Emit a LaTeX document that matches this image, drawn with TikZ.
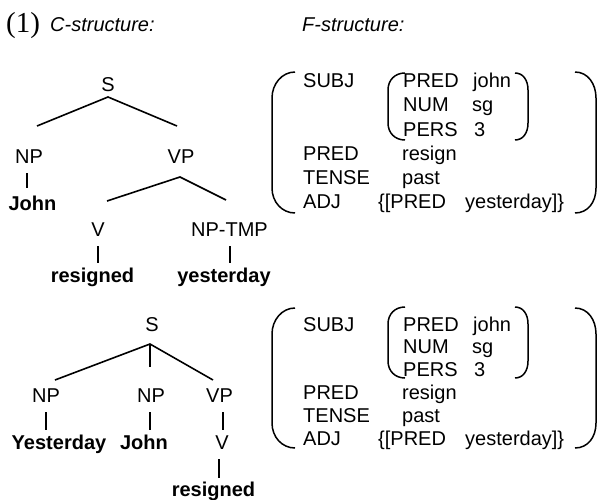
\documentclass[tikz,border=0pt]{standalone}
\usepackage{fontspec}
\setmainfont{Liberation Sans}
\newfontfamily\serifnum{Liberation Serif}
\begin{document}
\begin{tikzpicture}[x=1pt,y=-1pt,
  every node/.style={inner sep=0pt, font=\fontsize{20}{24}\selectfont},
  lbl/.style={anchor=base},
  bw/.style={anchor=base, font=\fontsize{20}{24}\selectfont\bfseries},
  fs/.style={anchor=base west},
  edge/.style={line width=1.6pt},
  paren/.style={line width=1.5pt}]
\useasboundingbox (0,0) rectangle (599,500);

% header
\node[anchor=base west, font=\fontsize{29}{31}\serifnum] (num) at (6,33) {(1)};
\node[fs, font=\fontsize{20}{24}\selectfont\itshape] (chead) at (50,32) {C-structure:};
\node[fs, font=\fontsize{20}{24}\selectfont\itshape] (fhead) at (302,32) {F-structure:};

% ---------- top tree ----------
\node[lbl] (S1) at (108,92) {S};
\node[lbl] (NP1) at (29,163) {NP};
\node[lbl] (VP1) at (181,163) {VP};
\node[bw] (John1) at (32.5,210) {John};
\node[lbl] (V1) at (98,236) {V};
\node[lbl] (NPT1) at (229.5,236) {NP-TMP};
\node[bw] (res1) at (92.5,282) {resigned};
\node[bw] (yes1) at (224,282) {yesterday};

\coordinate (S1a) at (108,97);
\coordinate (S1l) at (37,126);
\coordinate (S1r) at (177,126);
\coordinate (NP1a) at (27,173);
\coordinate (NP1b) at (27,188);
\coordinate (VP1a) at (180,177);
\coordinate (VP1l) at (107,201);
\coordinate (VP1r) at (226,200);
\coordinate (V1a) at (98,246);
\coordinate (V1b) at (98,263);
\coordinate (T1a) at (230,246);
\coordinate (T1b) at (230,263);

\draw[edge] (S1l) -- (S1a) -- (S1r);
\draw[edge] (NP1a) -- (NP1b);
\draw[edge] (VP1l) -- (VP1a) -- (VP1r);
\draw[edge] (V1a) -- (V1b);
\draw[edge] (T1a) -- (T1b);

% ---------- bottom tree ----------
\node[lbl] (S2) at (152,331) {S};
\node[lbl] (NP2) at (46,402) {NP};
\node[lbl] (NP3) at (151,402) {NP};
\node[lbl] (VP2) at (219.5,402) {VP};
\node[bw] (Yes2) at (59,449) {Yesterday};
\node[bw] (John2) at (144,449) {John};
\node[lbl] (V2) at (222,449) {V};
\node[bw] (res2) at (213.5,496) {resigned};

\coordinate (S2a) at (150,344);
\coordinate (S2l) at (55,380);
\coordinate (S2m) at (150,367);
\coordinate (S2r) at (213,380);
\coordinate (NP2a) at (45.7,412);
\coordinate (NP2b) at (45.7,430);
\coordinate (NP3a) at (150,412);
\coordinate (NP3b) at (150,430);
\coordinate (VP2a) at (223,412);
\coordinate (VP2b) at (223,430);
\coordinate (V2a) at (219,459);
\coordinate (V2b) at (219,478);

\draw[edge] (S2l) -- (S2a) -- (S2r);
\draw[edge] (S2a) -- (S2m);
\draw[edge] (NP2a) -- (NP2b);
\draw[edge] (NP3a) -- (NP3b);
\draw[edge] (VP2a) -- (VP2b);
\draw[edge] (V2a) -- (V2b);

% ---------- top f-structure ----------
\draw[paren] (295,72) .. controls (282,72) and (272,84) .. (272,98) -- (272,188) .. controls (272,202) and (282,213) .. (295,213);
\draw[paren] (575,72) .. controls (588,72) and (596,84) .. (596,98) -- (596,188) .. controls (596,202) and (588,213) .. (575,213);
\draw[paren] (405,73) .. controls (395,73) and (388,80) .. (388,90) -- (388,123) .. controls (388,133) and (395,140) .. (405,140);
\draw[paren] (515,73) .. controls (523,73) and (528,80) .. (528,90) -- (528,123) .. controls (528,133) and (523,140) .. (515,140);

\node[fs] (subj1) at (303,88) {SUBJ};
\node[fs] (ipred1) at (403,88) {PRED};
\node[fs] (john1) at (473,88) {john};
\node[fs] (num1) at (403,112) {NUM};
\node[fs] (sg1) at (472,112) {sg};
\node[fs] (pers1) at (403,136) {PERS};
\node[fs] (three1) at (474,136) {3};
\node[fs] (pred1) at (303,160) {PRED};
\node[fs] (resign1) at (402,160) {resign};
\node[fs] (tense1) at (303,184) {TENSE};
\node[fs] (past1) at (402,184) {past};
\node[fs] (adj1) at (303,208) {ADJ};
\node[fs] (apred1) at (378,208) {\{[PRED};
\node[fs] (ayes1) at (465,208) {yesterday]\}};

% ---------- bottom f-structure ----------
\draw[paren] (295,308) .. controls (282,308) and (272,320) .. (272,334) -- (272,423) .. controls (272,437) and (282,448) .. (295,448);
\draw[paren] (575,308) .. controls (588,308) and (596,320) .. (596,334) -- (596,423) .. controls (596,437) and (588,448) .. (575,448);
\draw[paren] (405,307) .. controls (395,307) and (388,314) .. (388,324) -- (388,361) .. controls (388,371) and (395,378) .. (405,378);
\draw[paren] (515,307) .. controls (523,307) and (528,314) .. (528,324) -- (528,361) .. controls (528,371) and (523,378) .. (515,378);

\node[fs] (subj2) at (303,331) {SUBJ};
\node[fs] (ipred2) at (403,331) {PRED};
\node[fs] (john2) at (473,331) {john};
\node[fs] (num2) at (403,353.8) {NUM};
\node[fs] (sg2) at (472,353.8) {sg};
\node[fs] (pers2) at (403,376.6) {PERS};
\node[fs] (three2) at (474,376.6) {3};
\node[fs] (pred2) at (303,399.4) {PRED};
\node[fs] (resign2) at (402,399.4) {resign};
\node[fs] (tense2) at (303,422.2) {TENSE};
\node[fs] (past2) at (402,422.2) {past};
\node[fs] (adj2) at (303,445) {ADJ};
\node[fs] (apred2) at (378,445) {\{[PRED};
\node[fs] (ayes2) at (465,445) {yesterday]\}};
\end{tikzpicture}
\end{document}
